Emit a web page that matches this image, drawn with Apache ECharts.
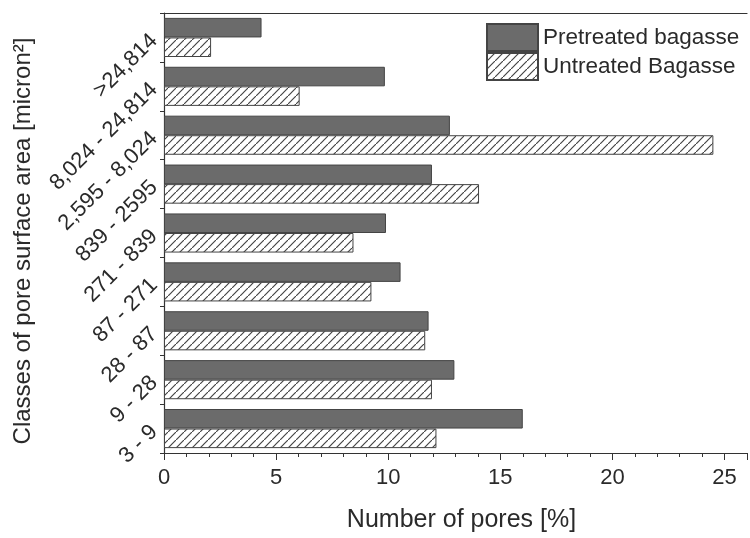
<!DOCTYPE html>
<html>
<head>
<meta charset="utf-8">
<script src="https://cdn.jsdelivr.net/npm/echarts@6/dist/echarts.min.js"></script>
<style>
  html, body { margin: 0; padding: 0; background: #fff; }
  #chart { width: 750px; height: 538px; }
</style>
</head>
<body>
<div id="chart"></div>
<script>
// Pore-area classes, listed from the smallest (bottom) to the largest (top)
const classes = ['3 - 9', '9 - 28', '28 - 87', '87 - 271', '271 - 839', '839 - 2595', '2,595 - 8,024', '8,024 - 24,814', '>24,814'];
// Share of pores in each class [%]
const pretreated = [16.0, 12.95, 11.8, 10.55, 9.9, 11.95, 12.75, 9.85, 4.35];
const untreated = [12.15, 11.95, 11.65, 9.25, 8.45, 14.05, 24.5, 6.05, 2.1];
const xTicks = [0, 5, 10, 15, 20, 25];

const ink = '#2a2a2a';

// Diagonal hatching tile for the untreated series
function hatchTile() {
  const c = document.createElement('canvas');
  c.width = 8; c.height = 8;
  const g = c.getContext('2d');
  g.fillStyle = '#ffffff';
  g.fillRect(0, 0, 8, 8);
  g.strokeStyle = '#444444';
  g.lineWidth = 1.15;
  g.beginPath();
  g.moveTo(-2, 10); g.lineTo(10, -2);
  g.stroke();
  return c;
}

const chart = echarts.init(document.getElementById('chart'), null, { renderer: 'canvas' });

chart.setOption({
  animation: false,
  backgroundColor: '#ffffff',
  textStyle: { fontFamily: 'Liberation Sans, Arial, sans-serif', color: ink },
  grid: { left: 164, right: 0, top: 13, bottom: 82, containLabel: false },
  legend: {
    data: ['Pretreated bagasse', 'Untreated Bagasse'],
    orient: 'vertical',
    left: 486,
    top: 23,
    icon: 'rect',
    itemWidth: 51,
    itemHeight: 27,
    itemGap: 0,
    textStyle: { fontSize: 22.5, color: ink },
    padding: 0
  },
  xAxis: [{
    type: 'value',
    min: 0,
    max: 26,
    interval: 5,
    name: 'Number of pores [%]',
    nameLocation: 'middle',
    nameGap: 55,
    nameTextStyle: { fontSize: 25, color: ink, padding: [0, 0, 0, 12] },
    axisLine: { show: true, lineStyle: { color: '#333', width: 1.2 } },
    axisTick: { show: true, length: 7, lineStyle: { color: '#333' } },
    minorTick: { show: true, splitNumber: 5, length: 4, lineStyle: { color: '#333' } },
    axisLabel: {
      fontSize: 22, color: ink, margin: 14,
      formatter: v => (xTicks.includes(v) ? String(v) : '')
    },
    splitLine: { show: false }
  }, {
    type: 'value',
    position: 'top',
    min: 0,
    max: 26,
    axisLine: { show: true, lineStyle: { color: '#333', width: 1.2 } },
    axisTick: { show: false },
    axisLabel: { show: false },
    splitLine: { show: false }
  }],
  yAxis: {
    type: 'category',
    data: classes,
    name: 'Classes of pore surface area [micron²]',
    nameLocation: 'middle',
    nameGap: 122,
    nameTextStyle: { fontSize: 24, color: ink, padding: [0, 16, 0, 0] },
    axisLine: { show: true, lineStyle: { color: '#333', width: 1.2 } },
    axisTick: { show: true, length: 4, lineStyle: { color: '#333' } },
    axisLabel: { rotate: 45, fontSize: 22, color: ink, margin: 10 },
    splitLine: { show: false }
  },
  series: [{
    name: 'Pretreated bagasse',
    type: 'bar',
    xAxisIndex: 0,
    data: pretreated,
    barGap: '0%',
    barCategoryGap: '20%',
    itemStyle: {
      color: '#6b6b6b',
      borderColor: '#444',
      borderWidth: 1
    }
  }, {
    name: 'Untreated Bagasse',
    type: 'bar',
    xAxisIndex: 0,
    data: untreated,
    barGap: '0%',
    barCategoryGap: '20%',
    itemStyle: {
      color: { image: hatchTile(), repeat: 'repeat' },
      borderColor: '#444',
      borderWidth: 1
    }
  }]
});
</script>
</body>
</html>
